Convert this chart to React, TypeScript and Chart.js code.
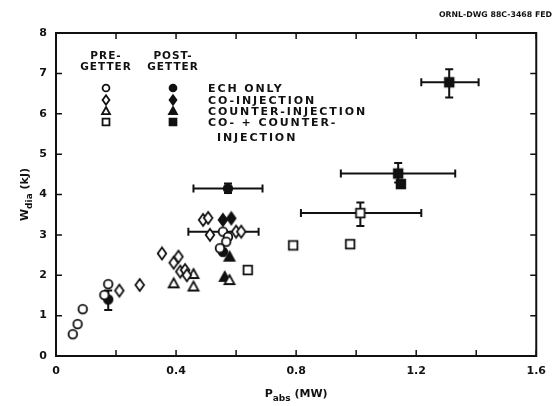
import React, { useEffect, useRef } from 'react';
import { Chart, registerables } from 'chart.js';

Chart.register(...registerables);

const FONT = '"DejaVu Sans", "Liberation Sans", sans-serif';

// ---- data ----
const xLabeledTicks = [0, 0.4, 0.8, 1.2, 1.6];
const xTickText = ['0', '0.4', '0.8', '1.2', '1.6'];
const yTickText = ['0', '1', '2', '3', '4', '5', '6', '7', '8'];

const echPre = [
  { x: 0.056, y: 0.54 }, { x: 0.072, y: 0.79 }, { x: 0.089, y: 1.16 },
  { x: 0.174, y: 1.78 }, { x: 0.161, y: 1.51 },
  { x: 0.556, y: 3.08 }, { x: 0.573, y: 2.95 }, { x: 0.567, y: 2.83 }, { x: 0.546, y: 2.67 },
];
const echPost = [{ x: 0.174, y: 1.4 }, { x: 0.573, y: 4.15 }, { x: 0.556, y: 2.58 }];
const coPre = [
  { x: 0.211, y: 1.62 }, { x: 0.279, y: 1.76 }, { x: 0.353, y: 2.54 }, { x: 0.392, y: 2.31 },
  { x: 0.408, y: 2.46 }, { x: 0.414, y: 2.09 }, { x: 0.43, y: 2.13 }, { x: 0.436, y: 2.0 },
  { x: 0.49, y: 3.37 }, { x: 0.507, y: 3.42 }, { x: 0.513, y: 3.0 }, { x: 0.6, y: 3.08 }, { x: 0.617, y: 3.08 },
];
const coPost = [{ x: 0.556, y: 3.37 }, { x: 0.584, y: 3.41 }];
const ctrPre = [{ x: 0.392, y: 1.8 }, { x: 0.458, y: 2.03 }, { x: 0.458, y: 1.72 }, { x: 0.578, y: 1.88 }];
const ctrPost = [{ x: 0.578, y: 2.46 }, { x: 0.562, y: 1.96 }];
const bothPre = [{ x: 0.639, y: 2.13 }, { x: 0.79, y: 2.74 }, { x: 0.98, y: 2.77 }, { x: 1.014, y: 3.54 }];
const bothPost = [{ x: 1.31, y: 6.78 }, { x: 1.14, y: 4.52 }, { x: 1.149, y: 4.26 }];

const errorBars = [
  { x: 1.014, y: 3.54, xMin: 0.816, xMax: 1.217, yMin: 3.22, yMax: 3.8 },
  { x: 1.31, y: 6.78, xMin: 1.217, xMax: 1.408, yMin: 6.4, yMax: 7.1 },
  { x: 1.14, y: 4.52, xMin: 0.949, xMax: 1.33, yMin: 4.3, yMax: 4.78 },
  { x: 0.573, y: 4.15, xMin: 0.458, xMax: 0.688, yMin: 4.04, yMax: 4.27 },
  { x: 0.556, y: 3.08, xMin: 0.441, xMax: 0.675, yMin: null, yMax: null },
  { x: 0.174, y: 1.4, xMin: null, xMax: null, yMin: 1.14, yMax: 1.62 },
];

const legendHeaders = [['PRE-', 'GETTER'], ['POST-', 'GETTER']];
const legendLabels = ['ECH ONLY', 'CO-INJECTION', 'COUNTER-INJECTION', 'CO- + COUNTER-'];
const legendContinuation = 'INJECTION';
const legendKinds = ['circle', 'diamond', 'triangle', 'square'];
const docId = 'ORNL-DWG 88C-3468 FED';

// ---- marker images ----
function drawShape(ctx: CanvasRenderingContext2D, kind: string, filled: boolean, cx: number, cy: number, s = 1) {
  ctx.save();
  ctx.lineWidth = 1.8;
  ctx.strokeStyle = '#111';
  ctx.fillStyle = filled ? '#111' : '#fff';
  ctx.beginPath();
  if (kind === 'circle') {
    ctx.arc(cx, cy, 4.3 * s, 0, Math.PI * 2);
  } else if (kind === 'diamond') {
    ctx.moveTo(cx, cy - 6 * s);
    ctx.lineTo(cx + 4.3 * s, cy);
    ctx.lineTo(cx, cy + 6 * s);
    ctx.lineTo(cx - 4.3 * s, cy);
    ctx.closePath();
  } else if (kind === 'triangle') {
    ctx.moveTo(cx, cy - 5 * s);
    ctx.lineTo(cx + 5 * s, cy + 4 * s);
    ctx.lineTo(cx - 5 * s, cy + 4 * s);
    ctx.closePath();
  } else {
    ctx.rect(cx - 4.3 * s, cy - 4.3 * s, 8.6 * s, 8.6 * s);
  }
  ctx.fill();
  ctx.stroke();
  ctx.restore();
}

function makeMarker(kind: string, filled: boolean): HTMLCanvasElement {
  const c = document.createElement('canvas');
  c.width = 16;
  c.height = 16;
  const ctx = c.getContext('2d')!;
  drawShape(ctx, kind, filled, 8, 8);
  return c;
}

function drawRich(ctx: CanvasRenderingContext2D, parts: { t: string; size: number; dy: number }[], x: number, y: number) {
  let total = 0;
  for (const p of parts) {
    ctx.font = `bold ${p.size}px ${FONT}`;
    total += ctx.measureText(p.t).width;
  }
  let cx = x - total / 2;
  for (const p of parts) {
    ctx.font = `bold ${p.size}px ${FONT}`;
    ctx.fillText(p.t, cx, y + p.dy);
    cx += ctx.measureText(p.t).width;
  }
}

const decorPlugin = {
  id: 'decor',
  beforeDatasetsDraw(chart: any) {
    const { ctx, scales } = chart;
    const xs = scales.x, ys = scales.y;
    ctx.save();
    ctx.strokeStyle = '#111';
    ctx.lineWidth = 2;
    for (const e of errorBars) {
      const px = xs.getPixelForValue(e.x);
      const py = ys.getPixelForValue(e.y);
      if (e.xMin != null && e.xMax != null) {
        const a = xs.getPixelForValue(e.xMin), b = xs.getPixelForValue(e.xMax);
        ctx.beginPath();
        ctx.moveTo(a, py); ctx.lineTo(b, py);
        ctx.moveTo(a, py - 4); ctx.lineTo(a, py + 4);
        ctx.moveTo(b, py - 4); ctx.lineTo(b, py + 4);
        ctx.stroke();
      }
      if (e.yMin != null && e.yMax != null) {
        const a = ys.getPixelForValue(e.yMin), b = ys.getPixelForValue(e.yMax);
        ctx.beginPath();
        ctx.moveTo(px, a); ctx.lineTo(px, b);
        ctx.moveTo(px - 4, a); ctx.lineTo(px + 4, a);
        ctx.moveTo(px - 4, b); ctx.lineTo(px + 4, b);
        ctx.stroke();
      }
    }
    ctx.restore();
  },
  afterDraw(chart: any) {
    const { ctx, chartArea: ca, scales } = chart;
    const xs = scales.x, ys = scales.y;
    ctx.save();
    ctx.strokeStyle = '#111';
    ctx.fillStyle = '#111';
    ctx.lineWidth = 2;
    ctx.strokeRect(ca.left, ca.top, ca.right - ca.left, ca.bottom - ca.top);
    ctx.lineWidth = 1.5;
    const tl = 6;
    ctx.beginPath();
    for (const t of xs.ticks) {
      const px = xs.getPixelForValue(t.value);
      ctx.moveTo(px, ca.bottom); ctx.lineTo(px, ca.bottom - tl);
      ctx.moveTo(px, ca.top); ctx.lineTo(px, ca.top + tl);
    }
    for (const t of ys.ticks) {
      const py = ys.getPixelForValue(t.value);
      ctx.moveTo(ca.left, py); ctx.lineTo(ca.left + tl, py);
      ctx.moveTo(ca.right, py); ctx.lineTo(ca.right - tl, py);
    }
    ctx.stroke();

    // axis titles
    ctx.textBaseline = 'alphabetic';
    drawRich(ctx, [
      { t: 'P', size: 11, dy: 0 },
      { t: 'abs', size: 9, dy: 4 },
      { t: ' (MW)', size: 11, dy: 0 },
    ], (ca.left + ca.right) / 2, 397);
    ctx.save();
    ctx.translate(28, (ca.top + ca.bottom) / 2);
    ctx.rotate(-Math.PI / 2);
    drawRich(ctx, [
      { t: 'W', size: 11, dy: 0 },
      { t: 'dia', size: 9, dy: 4 },
      { t: ' (kJ)', size: 11, dy: 0 },
    ], 0, 0);
    ctx.restore();

    // document id
    ctx.font = `bold 7.8px ${FONT}`;
    ctx.textAlign = 'right';
    ctx.fillText(docId, 552, 17);

    // legend
    (ctx as any).letterSpacing = '1px';
    ctx.font = `bold 10.5px ${FONT}`;
    ctx.textAlign = 'center';
    const colX = [106, 173];
    legendHeaders.forEach((h, i) => {
      ctx.fillText(h[0], colX[i], 59);
      ctx.fillText(h[1], colX[i], 70);
    });
    const rowY = [88, 100, 111, 122];
    legendKinds.forEach((k, i) => {
      drawShape(ctx, k, false, colX[0], rowY[i], 0.8);
      drawShape(ctx, k, true, colX[1], rowY[i], 0.8);
    });
    ctx.textAlign = 'left';
    ctx.textBaseline = 'middle';
    (ctx as any).letterSpacing = '1.9px';
    ctx.font = `bold 11px ${FONT}`;
    legendLabels.forEach((l, i) => {
      ctx.fillText(l, 208, rowY[i] + 1);
    });
    ctx.fillText(legendContinuation, 217, 138);
    (ctx as any).letterSpacing = '0px';
    ctx.restore();
  },
};

export default function App() {
  const ref = useRef<HTMLCanvasElement>(null);
  useEffect(() => {
    document.body.style.margin = '0';
    const canvas = ref.current!;
    const mk = (data: any[], kind: string, filled: boolean) => ({
      data,
      pointStyle: makeMarker(kind, filled),
      pointRadius: 6,
      showLine: false,
    });
    const chart = new Chart(canvas, {
      type: 'scatter',
      data: {
        datasets: [
          mk(echPre, 'circle', false),
          mk(coPre, 'diamond', false),
          mk(ctrPre, 'triangle', false),
          mk(bothPre, 'square', false),
          mk(echPost, 'circle', true),
          mk(coPost, 'diamond', true),
          mk(ctrPost, 'triangle', true),
          mk(bothPost, 'square', true),
        ] as any,
      },
      options: {
        animation: false,
        responsive: false,
        devicePixelRatio: 1,
        layout: { padding: { top: 33, right: 13, left: 0, bottom: 0 } },
        plugins: { legend: { display: false }, tooltip: { enabled: false } },
        scales: {
          x: {
            type: 'linear',
            min: 0,
            max: 1.6,
            afterFit: (s: any) => { s.height = 50; },
            grid: { display: false, drawTicks: false },
            border: { display: false },
            ticks: {
              stepSize: 0.2,
              autoSkip: false,
              maxRotation: 0,
              padding: 9,
              color: '#111',
              font: { family: FONT, size: 11, weight: 'bold' },
              callback: (v: any) => {
                const r = Math.round(Number(v) * 10) / 10;
                const i = xLabeledTicks.findIndex((t) => Math.abs(t - r) < 1e-6);
                return i >= 0 ? xTickText[i] : '';
              },
            },
          },
          y: {
            type: 'linear',
            min: 0,
            max: 8,
            afterFit: (s: any) => { s.width = 56; },
            grid: { display: false, drawTicks: false },
            border: { display: false },
            ticks: {
              stepSize: 1,
              padding: 9,
              color: '#111',
              font: { family: FONT, size: 11, weight: 'bold' },
              callback: (v: any) => yTickText[Math.round(Number(v))] ?? '',
            },
          },
        },
      } as any,
      plugins: [decorPlugin],
    });
    return () => chart.destroy();
  }, []);
  return <canvas ref={ref} width={555} height={406} style={{ display: 'block' }} />;
}
